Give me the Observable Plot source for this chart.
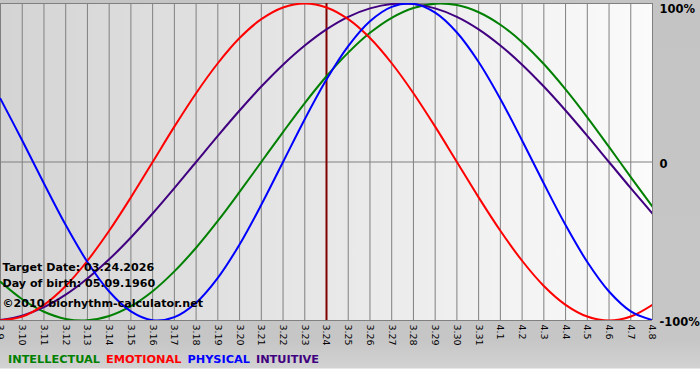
<!DOCTYPE html>
<html>
<head>
<meta charset="utf-8">
<script src="https://cdn.jsdelivr.net/npm/d3@7"></script>
<script src="https://cdn.jsdelivr.net/npm/@observablehq/plot@0.6"></script>
<style>
  html, body { margin: 0; padding: 0; }
  body { width: 700px; height: 380px; background: linear-gradient(to bottom, #c4c4c4 0px, #c6c6c6 340px, #d2d2d2 368px, #ffffff 369px); overflow: hidden; font-family: "DejaVu Sans", Verdana, sans-serif; position: relative; }
  #chart svg { display: block; }
  #legend { position: absolute; left: 8px; top: 353px; font-size: 11.3px; font-weight: bold; white-space: nowrap; }
  #legend span { margin-right: 6px; }
</style>
</head>
<body>
<div id="chart"></div>
<div id="legend"></div>
<script>
const days = ["3.9","3.10","3.11","3.12","3.13","3.14","3.15","3.16","3.17","3.18","3.19","3.20","3.21","3.22","3.23","3.24","3.25","3.26","3.27","3.28","3.29","3.30","3.31","4.1","4.2","4.3","4.4","4.5","4.6","4.7","4.8"];
const intellectual = [-75.6,-86.6,-94.5,-99.0,-99.9,-97.2,-91.0,-81.5,-69.0,-54.1,-37.2,-18.9,0,18.9,37.2,54.1,69.0,81.5,91.0,97.2,99.9,99.0,94.5,86.6,75.6,61.8,45.8,28.2,9.5,-9.5,-28.2];
const emotional = [-100,-97.5,-90.1,-78.2,-62.3,-43.4,-22.3,0,22.3,43.4,62.3,78.2,90.1,97.5,100,97.5,90.1,78.2,62.3,43.4,22.3,0,-22.3,-43.4,-62.3,-78.2,-90.1,-97.5,-100,-97.5,-90.1];
const physical = [39.8,13.6,-13.6,-39.8,-63.1,-81.7,-94.2,-99.8,-97.9,-88.8,-73.1,-52.0,-27.0,0,27.0,52.0,73.1,88.8,97.9,99.8,94.2,81.7,63.1,39.8,13.6,-13.6,-39.8,-63.1,-81.7,-94.2,-99.8];
const intuitive = [-99.7,-96.9,-91.6,-83.7,-73.5,-61.4,-47.6,-32.5,-16.5,0,16.5,32.5,47.6,61.4,73.5,83.7,91.6,96.9,99.7,99.7,96.9,91.6,83.7,73.5,61.4,47.6,32.5,16.5,0,-16.5,-32.5];
const seriesNames = ["INTELLECTUAL","EMOTIONAL","PHYSICAL","INTUITIVE"];
const seriesColors = ["#008000","#ff0000","#0000ff","#400080"];
const yLabelValues = [100, 0, -100];
const yLabelTexts = ["100%", "0", "-100%"];
const targetDay = "3.24";
const notes = ["Target Date: 03.24.2026","Day of birth: 05.09.1960","©2010 biorhythm-calculator.net"];

const seriesValues = [intellectual, emotional, physical, intuitive];
const idx = days.map((d,i)=>i);
const lineOrder = [0,3,1,2];
const lineMarks = lineOrder.map(s => Plot.line(seriesValues[s].map((v,i)=>({i, v})), {
  x: "i", y: "v", stroke: seriesColors[s], strokeWidth: 2, curve: "catmull-rom", clip: true
}));
const yLabelDy = [6, 2, 2];
const yLabelMarks = yLabelValues.map((v, k) => Plot.text([yLabelTexts[k]], {
  x: days.length - 1, y: v, text: d => d, dx: 7, dy: yLabelDy[k], textAnchor: "start",
  fontSize: 11.5, fontWeight: "bold", fill: "#000"
}));
const noteDy = [-50, -34, -14];
const noteMarks = notes.map((n, k) => Plot.text([n], {
  frameAnchor: "bottom-left", text: d => d, dx: 2, dy: noteDy[k], textAnchor: "start",
  fontSize: 11.1, fontWeight: "bold", fill: "#000"
}));

const chart = Plot.plot({
  width: 700, height: 350,
  marginLeft: 0, marginRight: 48, marginTop: 3, marginBottom: 30,
  x: {type: "linear", domain: [0, days.length - 1], axis: null},
  y: {domain: [-100, 100], axis: null},
  style: {background: "transparent", fontFamily: "DejaVu Sans, Verdana, sans-serif"},
  marks: [
    Plot.frame({fill: "url(#bgGrad)", stroke: "none"}),
    Plot.ruleX(idx, {x: d => d, stroke: "#808080", strokeWidth: 1, strokeOpacity: 1}),
    Plot.ruleY([0, 100, -100], {stroke: "#808080", strokeWidth: 1}),
    Plot.ruleX([days.indexOf(targetDay)], {stroke: "#800000", strokeWidth: 2}),
    ...lineMarks,
    Plot.text(days, {x: (d,i)=>i, frameAnchor: "bottom", dy: 4, rotate: 90, textAnchor: "start", lineAnchor: "middle", text: d => d, fontSize: 9.5, fill: "#000"}),
    ...yLabelMarks,
    ...noteMarks
  ]
});
const defs = d3.select(chart).insert("defs", ":first-child");
const g = defs.append("linearGradient").attr("id", "bgGrad").attr("x1", "0%").attr("x2", "100%").attr("y1", "0%").attr("y2", "0%");
g.append("stop").attr("offset", "0%").attr("stop-color", "#d4d4d4");
g.append("stop").attr("offset", "100%").attr("stop-color", "#fbfbfb");
document.getElementById("chart").appendChild(chart);

const legend = d3.select("#legend");
seriesNames.forEach((n, i) => legend.append("span").style("color", seriesColors[i]).text(n));
</script>
</body>
</html>
